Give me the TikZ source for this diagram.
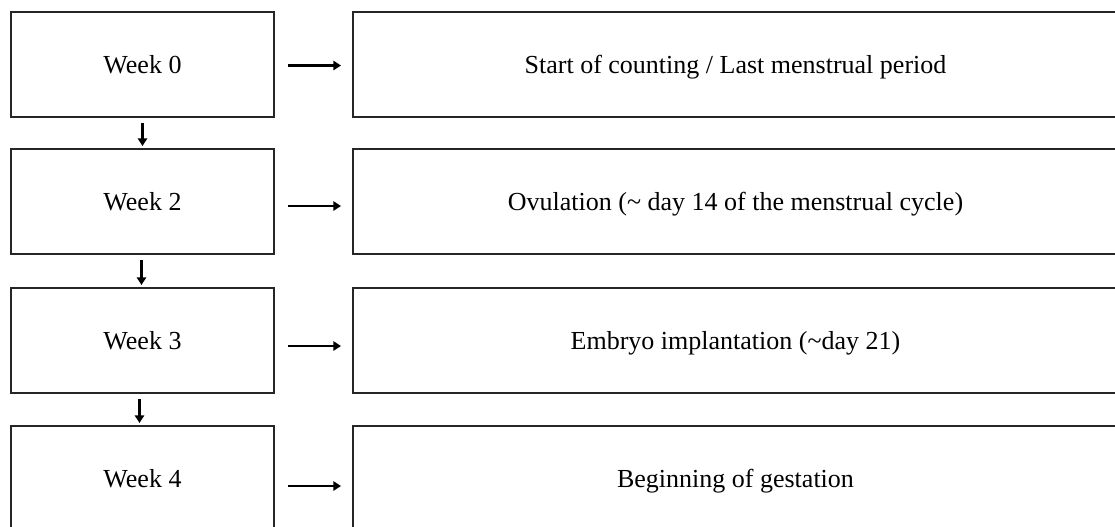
\documentclass[tikz,border=0pt]{standalone}
\usepackage{fontspec}
\setmainfont{Liberation Serif}
\usetikzlibrary{arrows.meta,calc}
\begin{document}
\begin{tikzpicture}[x=0.5pt,y=-0.5pt,
  box/.style={draw=black!85,line width=1pt,inner sep=0pt,text height=8.6pt,text depth=0pt,font=\fontsize{13}{15}\selectfont},
  weekbox/.style={box,minimum width=131.5pt,minimum height=52.5pt},
  eventbox/.style={box,minimum width=382.5pt,minimum height=52.5pt},
  arr/.style={line width=1.2pt,-{Triangle[length=3.8pt,width=4.6pt]}}]
\useasboundingbox (0,0) rectangle (1115,526);
\clip (0,0) rectangle (1115,526);
\node[weekbox] (w0) at (142.5,64.5) {Week 0};
\node[weekbox] (w2) at (142.5,201.5) {Week 2};
\node[weekbox] (w3) at (142.5,340.5) {Week 3};
\node[weekbox] (w4) at (142.5,478.5) {Week 4};
\node[eventbox] (e0) at (735.5,64.5) {Start of counting / Last menstrual period};
\node[eventbox] (e2) at (735.5,201.5) {Ovulation (\textasciitilde\ day 14 of the menstrual cycle)};
\node[eventbox] (e3) at (735.5,340.5) {Embryo implantation (\textasciitilde day 21)};
\node[eventbox] (e4) at (735.5,478.5) {Beginning of gestation};
\draw[arr] ($(w0.east)+(13,1)$) -- ($(e0.west)+(-11,1)$);
\draw[arr] ($(w2.east)+(13,4.5)$) -- ($(e2.west)+(-11,4.5)$);
\draw[arr] ($(w3.east)+(13,5.5)$) -- ($(e3.west)+(-11,5.5)$);
\draw[arr] ($(w4.east)+(13,7.5)$) -- ($(e4.west)+(-11,7.5)$);
\draw[arr] ($(w0.south)+(0,5)$) -- ($(w2.north)+(0,-2)$);
\draw[arr] ($(w2.south)+(-1,5)$) -- ($(w3.north)+(-1,-2)$);
\draw[arr] ($(w3.south)+(-3,5)$) -- ($(w4.north)+(-3,-2)$);
\end{tikzpicture}
\end{document}
